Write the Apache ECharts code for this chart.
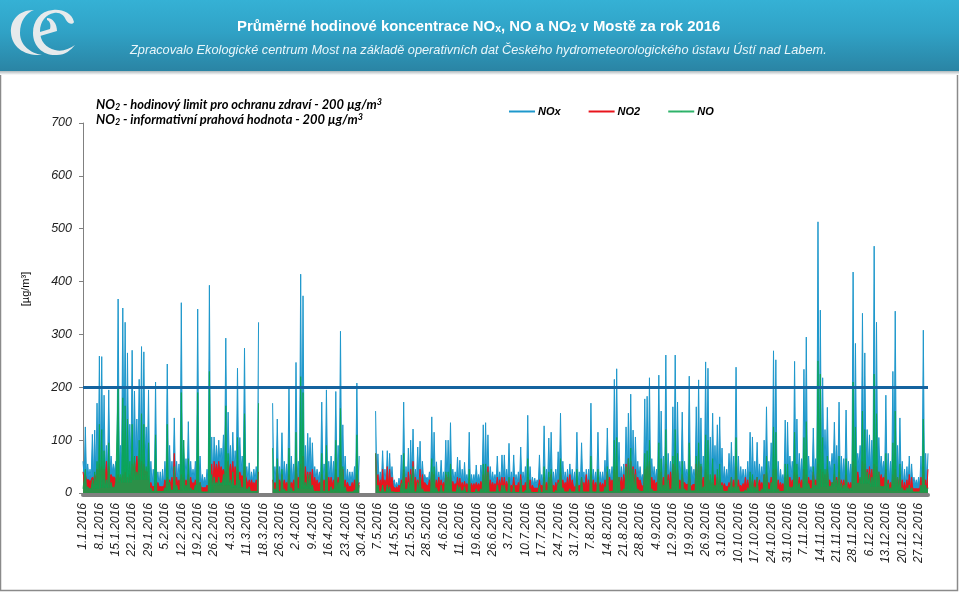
<!DOCTYPE html>
<html><head><meta charset="utf-8">
<script src="https://cdn.jsdelivr.net/npm/echarts@6/dist/echarts.min.js"></script>
<style>html,body{margin:0;padding:0;background:#fff}#c{width:959px;height:592px}</style>
</head><body><div id="c"></div>
<script>
const tickLabels = ["1.1.2016","8.1.2016","15.1.2016","22.1.2016","29.1.2016","5.2.2016","12.2.2016","19.2.2016","26.2.2016","4.3.2016","11.3.2016","18.3.2016","26.3.2016","2.4.2016","9.4.2016","16.4.2016","23.4.2016","30.4.2016","7.5.2016","14.5.2016","21.5.2016","28.5.2016","4.6.2016","11.6.2016","19.6.2016","26.6.2016","3.7.2016","10.7.2016","17.7.2016","24.7.2016","31.7.2016","7.8.2016","14.8.2016","21.8.2016","28.8.2016","4.9.2016","12.9.2016","19.9.2016","26.9.2016","3.10.2016","10.10.2016","17.10.2016","24.10.2016","31.10.2016","7.11.2016","14.11.2016","21.11.2016","28.11.2016","6.12.2016","13.12.2016","20.12.2016","27.12.2016"];
const N = null;
const noxPeaks = [
60,125,55,45,111,119,170,
259,258,185,90,195,70,55,
60,367,90,350,323,265,130,
270,193,140,215,277,267,125,
195,60,45,210,40,40,45,
60,244,90,60,142,60,55,
360,100,65,135,60,45,60,
348,70,35,30,45,393,106,
106,90,100,85,110,293,153,
90,115,80,236,105,70,274,
50,57,40,45,50,323,N,
N,N,N,N,170,50,140,
50,114,60,55,199,70,55,
247,60,414,373,90,113,105,
95,50,45,40,172,55,195,
60,70,60,192,90,306,129,
70,45,40,40,50,208,70,
N,N,N,N,N,N,155,
74,40,80,45,80,75,50,
25,20,28,72,172,50,85,
100,121,45,87,98,60,35,
30,40,144,115,59,40,62,
40,100,100,133,45,40,68,
62,45,58,35,115,35,35,
53,35,53,129,133,110,50,
40,35,70,40,72,72,45,
94,40,72,35,40,87,40,
50,147,50,30,28,25,72,
35,127,45,104,115,40,45,
78,151,60,40,45,55,45,
40,115,40,95,40,45,45,
170,45,40,115,40,40,62,
123,45,50,215,235,96,50,
55,125,151,187,119,106,60,
50,35,178,183,218,65,50,
45,223,155,70,261,75,60,
163,261,172,60,153,60,45,
221,50,45,163,214,142,70,
248,236,106,151,90,129,144,
85,50,45,75,96,70,238,
70,50,45,45,60,115,106,
60,96,55,50,100,163,60,
95,269,252,60,45,35,138,
134,70,60,249,140,75,65,
234,295,70,50,123,65,513,
346,218,120,162,60,75,134,
90,172,70,65,157,60,55,
418,283,75,90,340,265,120,
110,100,467,323,105,70,60,
185,75,60,230,344,90,142,
60,45,50,70,55,30,25,
30,70,308,75,75];
const no2Peaks = [
40,35,25,20,30,35,45,
55,50,45,60,50,35,30,
25,35,30,35,40,30,35,
55,60,70,65,60,55,40,
25,20,15,18,20,15,15,
25,30,25,30,75,30,25,
35,30,25,35,30,20,25,
25,20,12,12,15,25,55,
60,55,60,50,45,40,60,
55,60,50,45,40,30,50,
30,25,25,20,25,40,N,
N,N,N,N,25,20,45,
25,35,25,20,35,20,25,
50,30,55,70,50,40,40,
45,30,25,20,35,25,40,
30,30,25,45,30,70,45,
25,20,15,20,25,35,20,
N,N,N,N,N,N,75,
35,25,45,25,50,45,30,
15,12,15,25,45,30,40,
45,60,30,25,45,35,20,
18,25,40,35,25,30,25,
20,35,30,35,22,18,30,
28,20,22,18,25,18,18,
20,18,22,35,45,50,25,
20,18,30,25,30,30,22,
25,15,30,15,20,35,15,
20,30,25,15,12,12,25,
15,30,20,30,35,15,20,
25,40,25,20,30,35,25,
15,25,15,30,20,35,25,
35,25,20,30,20,18,25,
40,30,25,45,50,30,30,
35,55,65,60,50,45,30,
25,12,45,50,60,30,25,
20,45,40,30,55,35,40,
55,50,45,25,35,20,15,
35,12,15,55,60,50,30,
45,35,25,20,35,30,25,
20,18,15,20,30,25,50,
25,15,18,30,25,30,25,
25,30,25,20,35,40,20,
30,45,45,25,20,18,30,
35,30,25,40,35,30,25,
45,35,30,25,40,25,55,
45,40,35,45,25,20,35,
30,40,25,25,35,20,20,
60,50,40,25,60,55,45,
50,45,55,50,40,35,30,
45,25,20,35,45,30,35,
25,20,25,35,30,10,8,
8,30,50,25,45];
const noPeaks = [
8,45,12,10,25,40,60,
130,120,80,25,95,20,12,
20,200,35,180,165,140,60,
130,70,40,100,150,130,50,
95,10,5,110,6,5,5,
10,130,20,8,50,15,8,
190,100,15,65,10,6,15,
190,20,5,3,5,230,35,
30,20,30,20,35,165,75,
25,40,15,105,25,12,150,
5,12,3,5,6,170,N,
N,N,N,N,85,8,65,
6,45,8,6,85,10,6,
115,8,220,190,20,35,35,
15,5,5,3,75,6,90,
6,12,8,100,20,160,50,
12,3,3,3,6,110,15,
N,N,N,N,N,N,75,
15,5,15,5,15,12,5,
2,2,3,18,75,8,20,
35,50,5,20,30,8,3,
3,5,65,50,10,5,15,
5,40,40,55,5,3,15,
12,5,12,3,45,3,3,
8,3,8,55,55,40,5,
5,3,15,5,15,15,5,
30,3,15,3,3,25,3,
5,65,8,3,2,2,15,
3,50,5,40,45,3,5,
20,65,10,3,5,8,5,
5,45,5,30,3,5,5,
70,5,3,45,3,3,12,
50,5,5,100,105,30,5,
8,50,65,85,45,35,8,
6,3,75,80,100,8,5,
5,95,65,15,120,25,8,
70,120,75,8,60,8,5,
95,5,5,70,95,55,12,
110,100,35,65,15,45,55,
15,6,5,12,30,12,105,
12,5,3,6,10,40,35,
12,30,6,8,35,70,8,
20,125,115,8,5,3,55,
55,12,12,115,55,18,10,
105,135,18,10,50,15,250,
225,105,45,70,15,20,55,
25,70,18,15,65,10,10,
210,125,20,30,155,120,40,
35,30,225,150,40,15,10,
75,18,10,95,155,30,55,
10,6,10,15,10,3,3,
5,15,140,15,10];
const noxLows = [30,40,55,60,15,25,25,18,55,40,22,22,25,35,25,25,20,30,20,12,25,20,20,18,22,20,18,15,18,20,18,20,25,28,25,28,28,25,28,22,18,25,20,30,30,40,28,50,40,25,15,15];
const no2Lows = [25,30,25,40,12,16,16,10,40,32,15,15,15,24,15,15,12,20,13,8,16,13,13,12,13,12,10,9,10,13,10,12,16,20,16,16,16,16,13,12,10,13,12,16,18,16,13,25,25,13,8,8];
const noLows = [8,10,20,25,3,5,5,2,15,10,3,3,3,8,3,3,2,4,2,1,2,2,2,1,2,2,1,1,1,2,2,2,3,4,3,4,4,4,4,3,2,3,3,6,8,12,5,18,12,4,2,2];
const limitValue = 200;

// each day contributes its peak and the week's overnight low, alternately
const weave = (peaks, lows) => {
  const out = [];
  peaks.forEach((v, i) => {
    out.push(v);
    if (i < peaks.length - 1) {
      const gap = v === null || peaks[i + 1] === null;
      out.push(gap ? null : lows[Math.floor(i / 7)]);
    }
  });
  return out;
};
const noxValues = weave(noxPeaks, noxLows);
const no2Values = weave(no2Peaks, no2Lows);
const noValues = weave(noPeaks, noLows);
const categories = noxValues.map((_, i) => i % 14 === 0 ? tickLabels[i / 14] : '');

const colors = {NOx:'#1E98CC', NO2:'#E8141C', NO:'#0AA650'};
const chart = echarts.init(document.getElementById('c'), null, {renderer:'canvas'});
const lineSeries = (name, data, z, op) => ({
  name, type:'line', data, z, showSymbol:false, symbol:'none', connectNulls:false, animation:false,
  lineStyle:{color:colors[name], width:1, opacity:op}, itemStyle:{color:colors[name]},
  areaStyle:{color:colors[name], opacity:op}, emphasis:{disabled:true}
});
const sup = {fontFamily:'Lato', fontWeight:'bold', fontStyle:'italic', fontSize:9, color:'#000', verticalAlign:'top', lineHeight:10};
const sub = {fontFamily:'Lato', fontWeight:'bold', fontStyle:'italic', fontSize:9, color:'#000', verticalAlign:'bottom', lineHeight:10};
const note = {fontFamily:'Lato', fontWeight:'bold', fontStyle:'italic', fontSize:12.9, color:'#000', lineHeight:14};
const head = {fontFamily:'Liberation Sans', fontWeight:'bold', fontSize:14.9, color:'#fff', lineHeight:16};
const headSub = {fontFamily:'Liberation Sans', fontWeight:'bold', fontSize:10.5, color:'#fff', verticalAlign:'bottom', lineHeight:16, padding:[6,0,0,0]};
const logoPaths = [
  'M34 10 C18 10 10 21 11 33 C12 47 24 56 42 55 C30 53 20 45 20 33 C20 21 26 13 34 10 Z',
  'M74 22 C72 13 62 9 53 10 C40 11 33 21 33 33 C33 47 44 56 57 55 C65 55 71 50 75 45 C69 49 62 52 55 50 C46 48 40 41 40 31 C40 22 46 14 54 13 C60 12 64 15 66 20 C68 24 73 25 74 22 Z',
  'M40 36 L57 31 C57 24 53 18 47 18 L47 20 C50 21 51 25 50 29 L40 32 Z'
];
logoPaths.forEach((d, i) => echarts.graphic.registerShape('logo' + i, echarts.graphic.extendPath(d)));
chart.setOption({
  animation:false,
  backgroundColor:'#fff',
  graphic:[
    {type:'rect', z:0, shape:{x:0.5,y:0.5,width:957,height:590}, style:{fill:'#fff', stroke:'#8a8a8a', lineWidth:1.5}},
    {type:'rect', z:1, shape:{x:0,y:70,width:959,height:5}, style:{fill:{type:'linear',x:0,y:0,x2:0,y2:1,colorStops:[{offset:0,color:'#9aa6ab'},{offset:1,color:'#ffffff'}]}}},
    {type:'rect', z:2, shape:{x:0,y:0,width:959,height:71}, style:{fill:{type:'linear',x:0,y:0,x2:0,y2:1,colorStops:[{offset:0,color:'#35B1D5'},{offset:0.45,color:'#30A2C6'},{offset:1,color:'#2A84A4'}]}}},
    {type:'logo0', z:3, style:{fill:'#E6EAEC'}},
    {type:'logo1', z:3, style:{fill:'#E6EAEC'}},
    {type:'logo2', z:3, style:{fill:'#E6EAEC'}}
  ],
  title:[
    {left:237, top:19, padding:0, text:'{a|Průměrné hodinové koncentrace NO}{s|x}{a|, NO a NO}{s|2}{a| v Mostě za rok 2016}', textStyle:{rich:{a:head,s:headSub}}},
    {left:130, top:44, padding:0, text:'Zpracovalo Ekologické centrum Most na základě operativních dat Českého hydrometeorologického ústavu Ústí nad Labem.',
      textStyle:{fontFamily:'Liberation Sans', fontStyle:'italic', fontWeight:'normal', fontSize:12.75, color:'#EAF6FA'}},
    {left:96, top:98, padding:0, text:'{n|NO}{b|2}{n| - hodinový limit pro ochranu zdraví - 200 µg/m}{t|3}', textStyle:{rich:{n:note,b:sub,t:sup}}},
    {left:96, top:113, padding:0, text:'{n|NO}{b|2}{n| - informativní prahová hodnota - 200 µg/m}{t|3}', textStyle:{rich:{n:note,b:sub,t:sup}}}
  ],
  legend:{
    left:508, top:106, itemWidth:26, itemHeight:1, itemGap:27, padding:0,
    data:['NOx','NO2','NO'],
    textStyle:{fontFamily:'Liberation Sans', fontWeight:'bold', fontStyle:'italic', fontSize:11, color:'#000', padding:[0,0,0,-2]}
  },
  grid:{left:83, right:31, top:123, bottom:99},
  xAxis:{
    type:'category', data:categories, boundaryGap:false, offset:2,
    axisLine:{show:true, onZero:false, lineStyle:{color:'#808080', width:4}},
    axisTick:{show:false},
    axisLabel:{interval:0, rotate:90, margin:8, fontFamily:'Liberation Sans', fontStyle:'italic', fontSize:12, color:'#222'},
    splitLine:{show:false}
  },
  yAxis:{
    type:'value', min:0, max:700, interval:100,
    name:'[µg/m³]', nameLocation:'middle', nameGap:52, nameRotate:90,
    nameTextStyle:{fontFamily:'Liberation Sans', fontSize:11, color:'#000', padding:[0,0,0,38]},
    axisLine:{show:true, lineStyle:{color:'#808080', width:1}},
    axisTick:{show:true, length:4, lineStyle:{color:'#808080'}},
    axisLabel:{margin:11, fontFamily:'Liberation Sans', fontStyle:'italic', fontSize:12.5, color:'#222'},
    splitLine:{show:false}
  },
  series:[
    lineSeries('NOx', noxValues, 2, 1),
    lineSeries('NO2', no2Values, 3, 1),
    Object.assign(lineSeries('NO', noValues, 4, 0.85), {
      markLine:{silent:true, symbol:'none', animation:false, label:{show:false}, z:10,
        lineStyle:{color:'#14639F', width:3, type:'solid'}, data:[{yAxis:limitValue}]}
    })
  ]
});
</script></body></html>
